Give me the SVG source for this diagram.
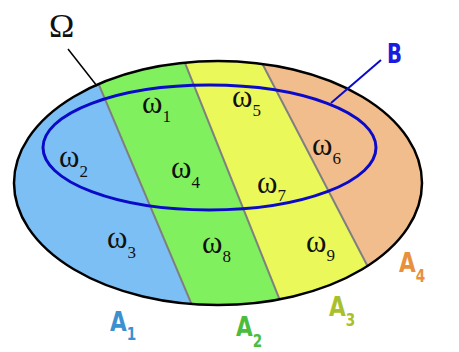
<svg xmlns="http://www.w3.org/2000/svg" width="459" height="352" viewBox="0 0 459 352">
<style>
.w{font-family:"Liberation Serif","Times New Roman",serif;font-size:31px;fill:#111}
.s{font-size:17px}
.L{font-family:"DejaVu Sans",sans-serif;font-weight:bold;font-size:27px}
.Ls{font-size:17px}
.div{stroke:#7f7f7f;stroke-width:2;fill:none}
</style>
<defs>
<clipPath id="om"><ellipse cx="218" cy="183" rx="204" ry="122"/></clipPath>
</defs>
<g id="regions" clip-path="url(#om)">
<polygon id="A1" points="0,40 80,40 202.5,330 0,330" fill="#7cbff4"/>
<polygon id="A2" points="80,40 175.8,40 291.8,330 202.5,330" fill="#80f05e"/>
<polygon id="A3" points="175.8,40 250,40 400.8,330 291.8,330" fill="#eaf85a"/>
<polygon id="A4" points="250,40 459,40 459,330 400.8,330" fill="#f2bd8c"/>
<line class="div" x1="80" y1="40" x2="202.5" y2="330"/>
<line class="div" x1="175.8" y1="40" x2="291.8" y2="330"/>
<line class="div" x1="250" y1="40" x2="400.8" y2="330"/>
</g>
<g id="Omega">
<ellipse cx="218" cy="183" rx="204" ry="122" fill="none" stroke="#000" stroke-width="2.5"/>
<text x="49" y="37" style="font-family:'Liberation Serif',serif;font-size:34px;fill:#111">Ω</text>
</g>
<g id="B">
<ellipse cx="209.5" cy="147.5" rx="166.5" ry="62.5" fill="none" stroke="#0a0ac8" stroke-width="3"/>
<text class="L" x="387" y="63" fill="#1a1ae0" textLength="15" lengthAdjust="spacingAndGlyphs">B</text>
</g>
<g id="connectors">
<line x1="68" y1="49" x2="97" y2="86" stroke="#000" stroke-width="1.5"/>
<line x1="381" y1="60" x2="331" y2="103" stroke="#0a0ac8" stroke-width="2"/>
</g>
<g id="omegas">
<text class="w" x="142" y="113">ω<tspan class="s" dy="9">1</tspan></text>
<text class="w" x="59" y="167">ω<tspan class="s" dy="10">2</tspan></text>
<text class="w" x="107" y="248">ω<tspan class="s" dy="10">3</tspan></text>
<text class="w" x="171" y="178">ω<tspan class="s" dy="10">4</tspan></text>
<text class="w" x="232" y="107">ω<tspan class="s" dy="9">5</tspan></text>
<text class="w" x="312" y="155">ω<tspan class="s" dy="9">6</tspan></text>
<text class="w" x="257" y="193">ω<tspan class="s" dy="8">7</tspan></text>
<text class="w" x="202" y="253">ω<tspan class="s" dy="9">8</tspan></text>
<text class="w" x="306" y="252">ω<tspan class="s" dy="9">9</tspan></text>
</g>
<g id="labels">
<text class="L" transform="translate(110,331) scale(0.8,1)" fill="#3b90d0">A<tspan class="Ls" dy="9">1</tspan></text>
<text class="L" transform="translate(236,336) scale(0.8,1)" fill="#4cbc3c">A<tspan class="Ls" dy="11">2</tspan></text>
<text class="L" transform="translate(329,316) scale(0.8,1)" fill="#a8c02c">A<tspan class="Ls" dy="10">3</tspan></text>
<text class="L" transform="translate(399,272) scale(0.8,1)" fill="#e8903c">A<tspan class="Ls" dy="10">4</tspan></text>
</g>
</svg>
